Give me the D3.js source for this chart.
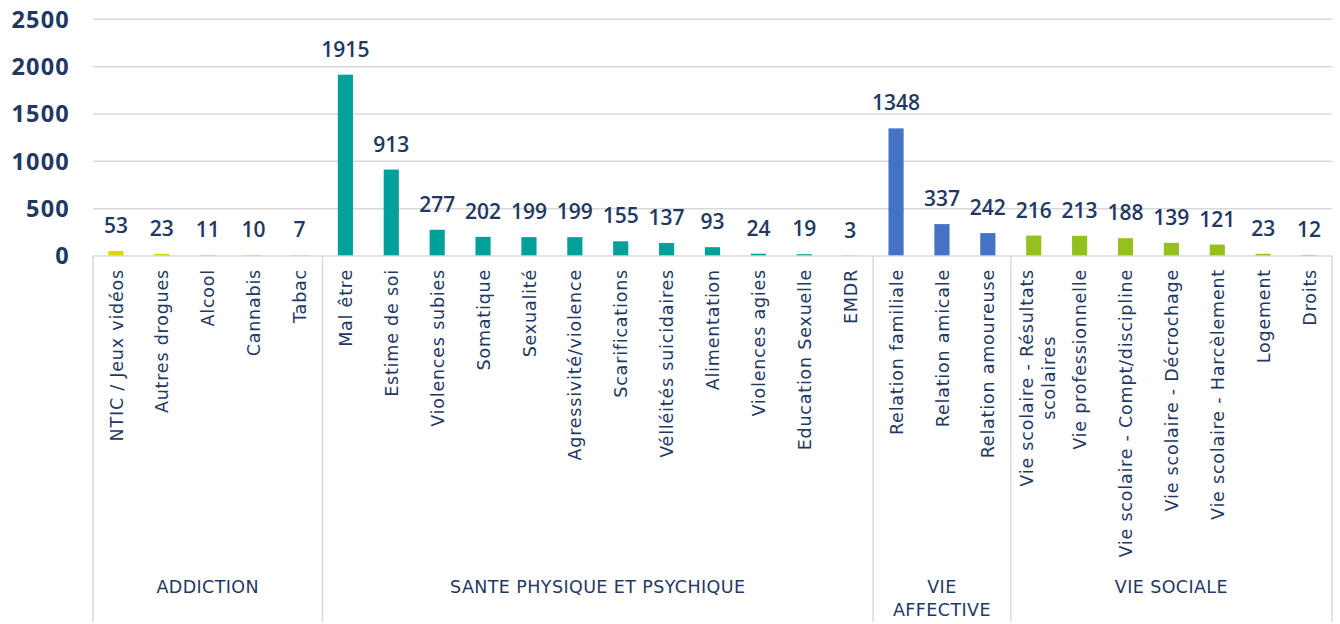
<!DOCTYPE html>
<html>
<head>
<meta charset="utf-8">
<script src="https://cdn.jsdelivr.net/npm/d3@7"></script>
<style>
  body { margin: 0; background: #fff; }
  text { font-family: "DejaVu Sans", sans-serif; fill: #1f3864; }
  text.num { font-family: "Open Sans", sans-serif; }
</style>
</head>
<body>
<div id="chart"></div>
<script>
// data
const groups = ["ADDICTION", "SANTE PHYSIQUE ET PSYCHIQUE", "VIE AFFECTIVE", "VIE SOCIALE"];
const groupColors = ["#dcd900", "#00a19a", "#4472c4", "#95c11f"];

const addictionLabels = ["NTIC / Jeux vidéos", "Autres drogues", "Alcool", "Cannabis", "Tabac"];
const addictionValues = [53, 23, 11, 10, 7];

const santeLabels = ["Mal être", "Estime de soi", "Violences subies", "Somatique", "Sexualité",
  "Agressivité/violence", "Scarifications", "Vélléités suicidaires", "Alimentation",
  "Violences agies", "Education Sexuelle", "EMDR"];
const santeValues = [1915, 913, 277, 202, 199, 199, 155, 137, 93, 24, 19, 3];

const affectiveLabels = ["Relation familiale", "Relation amicale", "Relation amoureuse"];
const affectiveValues = [1348, 337, 242];

const socialeLabels = ["Vie scolaire - Résultats|scolaires", "Vie professionnelle",
  "Vie scolaire - Compt/discipline", "Vie scolaire - Décrochage", "Vie scolaire - Harcèlement",
  "Logement", "Droits"];
const socialeValues = [216, 213, 188, 139, 121, 23, 12];

const yTicks = [0, 500, 1000, 1500, 2000, 2500];

// build rows
const groupLabels = [addictionLabels, santeLabels, affectiveLabels, socialeLabels];
const groupValues = [addictionValues, santeValues, affectiveValues, socialeValues];
const rows = [];
groupLabels.forEach((labels, g) => {
  labels.forEach((label, i) => {
    rows.push({ id: g + "-" + i, label: label, value: groupValues[g][i], group: g });
  });
});

const width = 1340, height = 624;
const plotLeft = 93, plotRight = 1332, plotTop = 19.3, plotBottom = 256;

const svg = d3.select("#chart").append("svg")
  .attr("width", width)
  .attr("height", height);

// scales
const x = d3.scaleBand()
  .domain(rows.map(d => d.id))
  .range([plotLeft, plotRight])
  .paddingInner(0.67)
  .paddingOuter(0.335);

const y = d3.scaleLinear()
  .domain([0, 2500])
  .range([plotBottom, plotTop]);

// gridlines
svg.append("g")
  .selectAll("line")
  .data(yTicks.filter(t => t > 0))
  .join("line")
    .attr("x1", plotLeft)
    .attr("x2", plotRight)
    .attr("y1", d => y(d))
    .attr("y2", d => y(d))
    .attr("stroke", "#d9d9d9")
    .attr("stroke-width", 1.5);

// y axis labels
svg.append("g")
  .selectAll("text")
  .data(yTicks)
  .join("text")
    .attr("class", "num")
    .attr("x", 70)
    .attr("y", d => y(d))
    .attr("dy", "0.36em")
    .attr("text-anchor", "end")
    .attr("font-size", 23.5)
    .attr("font-weight", 700)
    .attr("letter-spacing", 1.2)
    .text(d => d);

// bars
svg.append("g")
  .selectAll("rect")
  .data(rows)
  .join("rect")
    .attr("x", d => x(d.id))
    .attr("y", d => y(d.value))
    .attr("width", x.bandwidth())
    .attr("height", d => y(0) - y(d.value))
    .attr("fill", d => groupColors[d.group]);

// value labels
svg.append("g")
  .selectAll("text")
  .data(rows)
  .join("text")
    .attr("class", "num")
    .attr("x", d => x(d.id) + x.bandwidth() / 2)
    .attr("y", d => y(d.value) - 18)
    .attr("text-anchor", "middle")
    .attr("font-size", 21)
    .attr("font-weight", 600)
    .text(d => d.value);

// category axis frame
const step = x.step();
const bounds = [];
let start = 0;
groupLabels.forEach((labels, g) => {
  bounds.push({ g: g, x0: plotLeft + start * step, x1: plotLeft + (start + labels.length) * step });
  start += labels.length;
});

const frame = svg.append("g")
  .attr("stroke", "#d9d9d9")
  .attr("stroke-width", 1.5);

frame.append("line")
  .attr("x1", plotLeft).attr("x2", plotRight)
  .attr("y1", plotBottom).attr("y2", plotBottom);

frame.selectAll("line.sep")
  .data([plotLeft].concat(bounds.map(b => b.x1)))
  .join("line")
    .attr("class", "sep")
    .attr("x1", d => d).attr("x2", d => d)
    .attr("y1", plotBottom).attr("y2", 622);

// category labels, rotated
svg.append("g")
  .selectAll("text")
  .data(rows)
  .join("text")
    .attr("font-size", 17.5)
    .attr("letter-spacing", 0.8)
    .each(function(d) {
      const el = d3.select(this);
      const cx = x(d.id) + x.bandwidth() / 2;
      const parts = d.label.split("|");
      if (parts.length === 1) {
        el.attr("text-anchor", "end")
          .attr("transform", `translate(${cx},269) rotate(-90)`)
          .attr("dy", "0.38em")
          .text(parts[0]);
      } else {
        // two lines, centred on each other, block top at the axis
        el.attr("text-anchor", "middle");
        parts.forEach((p, i) => {
          el.append("tspan").attr("x", 0).attr("dy", i === 0 ? -1 : 22).text(p);
        });
        const w = this.getBBox().width;
        el.attr("transform", `translate(${cx},${269 + w / 2}) rotate(-90)`);
      }
    });

// group labels
svg.append("g")
  .selectAll("text")
  .data(bounds)
  .join("text")
    .attr("x", d => (d.x0 + d.x1) / 2)
    .attr("y", 593)
    .attr("text-anchor", "middle")
    .attr("font-size", 17.5)
    .attr("letter-spacing", 0.4)
    .each(function(d) {
      const el = d3.select(this);
      const name = groups[d.g];
      if (name === "VIE AFFECTIVE") {
        el.append("tspan").attr("x", (d.x0 + d.x1) / 2).text("VIE");
        el.append("tspan").attr("x", (d.x0 + d.x1) / 2).attr("dy", 23).text("AFFECTIVE");
      } else {
        el.text(name);
      }
    });
</script>
</body>
</html>
